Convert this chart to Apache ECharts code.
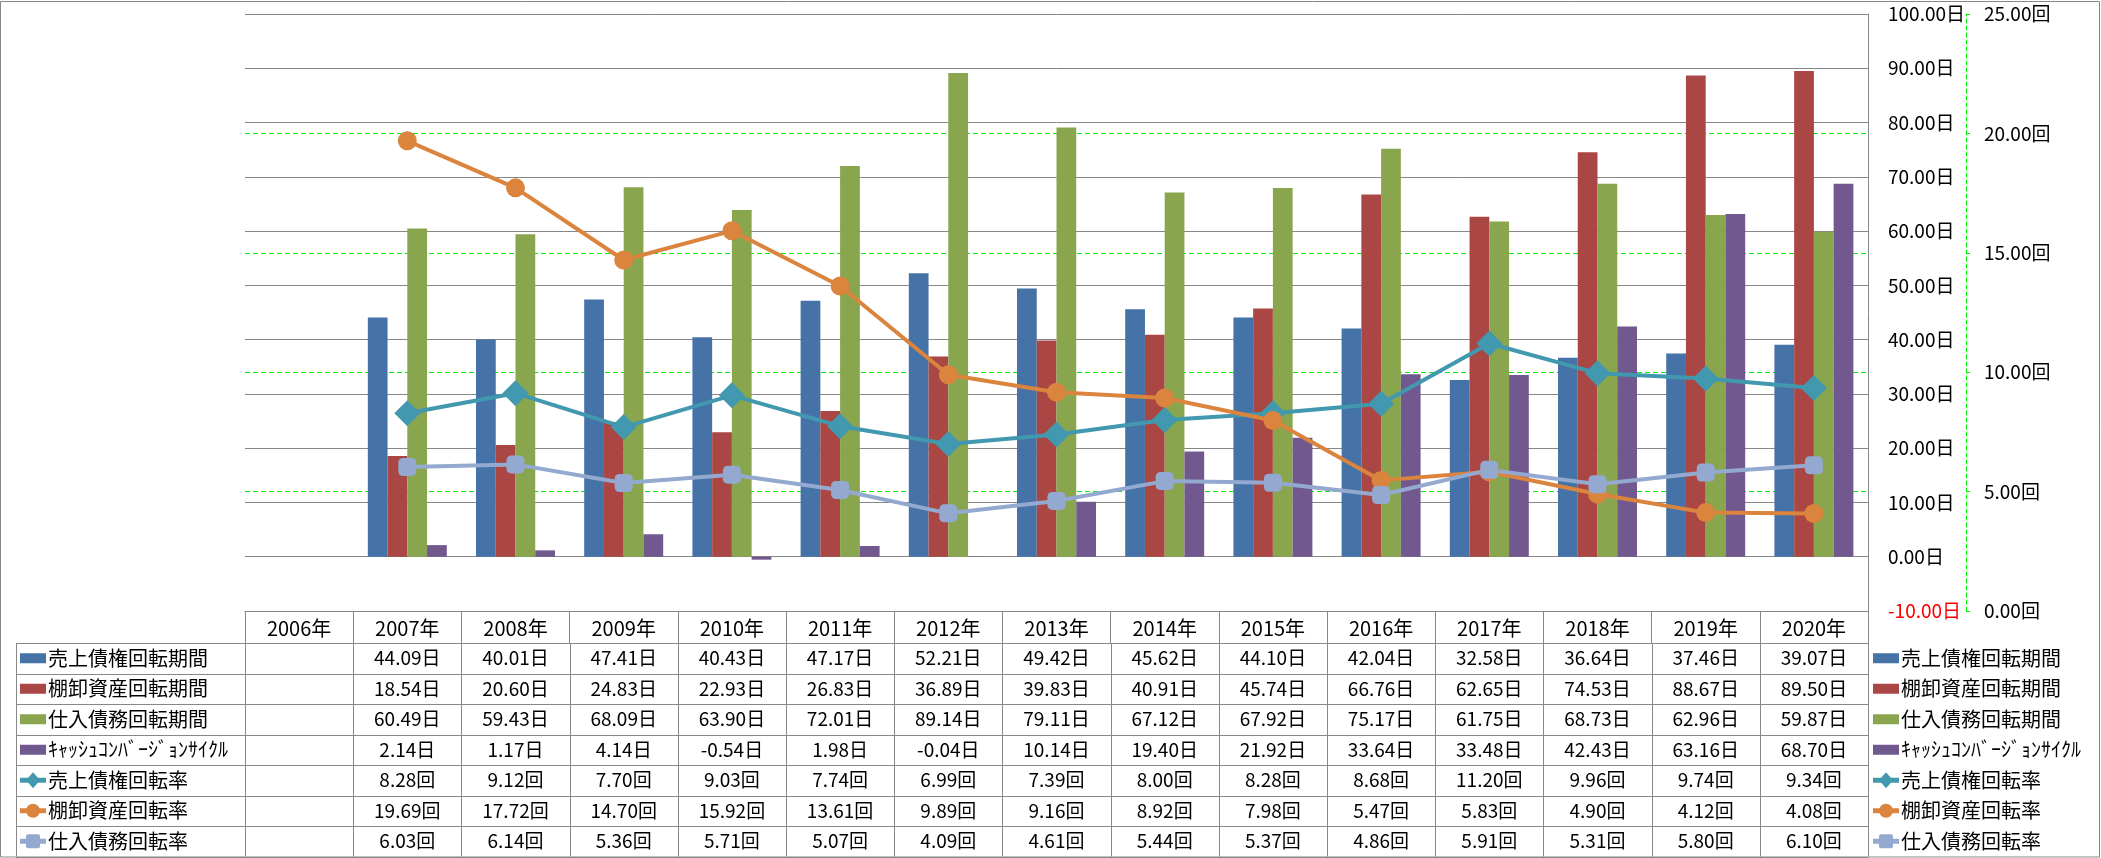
<!DOCTYPE html>
<html><head><meta charset="utf-8">
<script src="https://cdn.jsdelivr.net/npm/echarts@6/dist/echarts.min.js"></script>
<style>html,body{margin:0;padding:0;background:#fff}#c{width:2101px;height:858px}</style>
</head><body><div id="c"></div>
<script>
// ---------- data ----------
const years = ['2006年','2007年','2008年','2009年','2010年','2011年','2012年','2013年','2014年','2015年','2016年','2017年','2018年','2019年','2020年'];
const seriesNames = ['売上債権回転期間','棚卸資産回転期間','仕入債務回転期間','ｷｬｯｼｭｺﾝﾊﾞｰｼﾞｮﾝｻｲｸﾙ','売上債権回転率','棚卸資産回転率','仕入債務回転率'];
const receivableDays     = [null,44.09,40.01,47.41,40.43,47.17,52.21,49.42,45.62,44.10,42.04,32.58,36.64,37.46,39.07];
const inventoryDays      = [null,18.54,20.60,24.83,22.93,26.83,36.89,39.83,40.91,45.74,66.76,62.65,74.53,88.67,89.50];
const payableDays        = [null,60.49,59.43,68.09,63.90,72.01,89.14,79.11,67.12,67.92,75.17,61.75,68.73,62.96,59.87];
const cashConversionDays = [null,2.14,1.17,4.14,-0.54,1.98,-0.04,10.14,19.40,21.92,33.64,33.48,42.43,63.16,68.70];
const receivableTurnover = [null,8.28,9.12,7.70,9.03,7.74,6.99,7.39,8.00,8.28,8.68,11.20,9.96,9.74,9.34];
const inventoryTurnover  = [null,19.69,17.72,14.70,15.92,13.61,9.89,9.16,8.92,7.98,5.47,5.83,4.90,4.12,4.08];
const payableTurnover    = [null,6.03,6.14,5.36,5.71,5.07,4.09,4.61,5.44,5.37,4.86,5.91,5.31,5.80,6.10];
const dayAxis  = {min: -10, max: 100, interval: 10, unit: '日'};
const rateAxis = {min: 0, max: 25, interval: 5, unit: '回'};

// ---------- styles ----------
const COLORS = ['#4572A7','#AA4643','#89A54E','#71588F','#4198AF','#DB843D','#93A9CF'];
const NUM_FONT = "'Liberation Sans Narrow','Noto Sans CJK JP',sans-serif";
const JP_FONT = "'Noto Sans CJK JP',sans-serif";
const GRAY = '#878787';
const LIME = '#00ee00';

const rows = [
  {name: seriesNames[0], data: receivableDays,     unit: dayAxis.unit,  kind: 'bar'},
  {name: seriesNames[1], data: inventoryDays,      unit: dayAxis.unit,  kind: 'bar'},
  {name: seriesNames[2], data: payableDays,        unit: dayAxis.unit,  kind: 'bar'},
  {name: seriesNames[3], data: cashConversionDays, unit: dayAxis.unit,  kind: 'bar'},
  {name: seriesNames[4], data: receivableTurnover, unit: rateAxis.unit, kind: 'line', symbol: 'diamond',   size: 26},
  {name: seriesNames[5], data: inventoryTurnover,  unit: rateAxis.unit, kind: 'line', symbol: 'circle',    size: 19},
  {name: seriesNames[6], data: payableTurnover,    unit: rateAxis.unit, kind: 'line', symbol: 'roundRect', size: 18}
];

const chart = echarts.init(document.getElementById('c'));
const W = 2101, H = 858;
const G = {left: 245, right: 233, top: 14, bottom: 247};

const series = rows.map((r, i) => r.kind === 'bar' ? {
  name: r.name, type: 'bar', yAxisIndex: 0, data: r.data,
  barGap: '0%', barCategoryGap: '27%',
  itemStyle: {color: COLORS[i]}
} : {
  name: r.name, type: 'line', yAxisIndex: 1, data: r.data, z: 5,
  symbol: r.symbol, symbolSize: r.size, showAllSymbol: true,
  lineStyle: {width: 4, color: COLORS[i]},
  itemStyle: {color: COLORS[i]}
});

chart.setOption({
  animation: false,
  backgroundColor: '#fff',
  grid: {left: G.left, right: G.right, top: G.top, bottom: G.bottom, containLabel: false},
  xAxis: {
    type: 'category', data: years, position: 'bottom',
    axisLine: {onZero: false, lineStyle: {color: GRAY, width: 1}},
    axisTick: {show: true, interval: 0, length: 32, inside: false, lineStyle: {color: GRAY, width: 1}},
    axisLabel: {interval: 0, margin: 7, fontSize: 20, color: '#000', fontFamily: NUM_FONT},
    splitLine: {show: false}
  },
  yAxis: [{
    type: 'value', position: 'right', min: dayAxis.min, max: dayAxis.max, interval: dayAxis.interval,
    axisLine: {show: true, lineStyle: {color: GRAY, width: 1}},
    axisTick: {show: false},
    axisLabel: {margin: 20, fontSize: 19, fontFamily: NUM_FONT,
      color: v => (Number(v) < 0 ? '#ff0000' : '#000'),
      formatter: v => v.toFixed(2) + dayAxis.unit},
    splitLine: {show: true, lineStyle: {color: GRAY, width: 1}}
  }, {
    type: 'value', position: 'right', offset: 98, min: rateAxis.min, max: rateAxis.max, interval: rateAxis.interval,
    axisLine: {show: true, lineStyle: {color: LIME, width: 1, type: [4, 3]}},
    axisTick: {show: true, length: 4, inside: false, lineStyle: {color: LIME, width: 1}},
    axisLabel: {margin: 18, fontSize: 19, fontFamily: NUM_FONT, color: '#000',
      formatter: v => v.toFixed(2) + rateAxis.unit},
    splitLine: {show: true, showMinLine: false, showMaxLine: false, lineStyle: {color: LIME, width: 1, type: [5, 3]}}
  }],
  series: series
});

// ---------- data table + legends ----------
const centers = years.map((y, i) => chart.convertToPixel({xAxisIndex: 0}, i));
const colW = centers[1] - centers[0];
const tableRight = centers[centers.length - 1] + colW / 2;
const plotLeft = centers[0] - colW / 2;
const tableTop = H - G.bottom + 32;   // below header row
const tableBottom = 856.5;
const rowH = (tableBottom - tableTop) / rows.length;
const labelLeft = 16;

const g = [];
const crisp = v => Math.round(v) + 0.5;
const hline = (x1, x2, y) => g.push({type: 'line', silent: true, shape: {x1, y1: crisp(y), x2, y2: crisp(y)}, style: {stroke: GRAY, lineWidth: 1}});
const vline = (x, y1, y2) => g.push({type: 'line', silent: true, shape: {x1: crisp(x), y1, x2: crisp(x), y2}, style: {stroke: GRAY, lineWidth: 1}});

// outer border
g.push({type: 'rect', silent: true, shape: {x: 0.5, y: 1.5, width: W - 2, height: H - 2.5}, style: {fill: 'none', stroke: GRAY, lineWidth: 1}});

for (let r = 0; r <= rows.length; r++) hline(labelLeft, tableRight, tableTop + r * rowH);
vline(labelLeft, tableTop, tableBottom);
vline(plotLeft, tableTop, tableBottom);
for (let i = 0; i < years.length; i++) vline(centers[i] + colW / 2, i === years.length - 1 ? H - G.bottom : tableTop, tableBottom);

function key(x, cy, i) {
  const r = rows[i], c = COLORS[i];
  if (r.kind === 'bar') {
    g.push({type: 'rect', silent: true, shape: {x: x, y: cy - 5, width: 26, height: 10}, style: {fill: c}});
    return;
  }
  const mx = x + 13;
  g.push({type: 'line', silent: true, shape: {x1: x, y1: cy, x2: x + 26, y2: cy}, style: {stroke: c, lineWidth: 5}});
  if (r.symbol === 'diamond') g.push({type: 'polygon', silent: true, shape: {points: [[mx, cy - 8], [mx + 7, cy], [mx, cy + 8], [mx - 7, cy]]}, style: {fill: c}});
  else if (r.symbol === 'circle') g.push({type: 'circle', silent: true, shape: {cx: mx, cy: cy, r: 7}, style: {fill: c}});
  else g.push({type: 'rect', silent: true, shape: {x: mx - 7, y: cy - 7, width: 14, height: 14, r: 2}, style: {fill: c}});
}

rows.forEach((r, ri) => {
  const cy = tableTop + (ri + 0.5) * rowH;
  key(20, cy, ri);
  g.push({type: 'text', silent: true, x: 48, y: cy, style: {text: r.name, fontSize: 20, fontFamily: JP_FONT, fill: '#000', verticalAlign: 'middle', align: 'left'}});
  key(1873, cy, ri);
  g.push({type: 'text', silent: true, x: 1901, y: cy, style: {text: r.name, fontSize: 20, fontFamily: JP_FONT, fill: '#000', verticalAlign: 'middle', align: 'left'}});
  r.data.forEach((v, ci) => {
    if (v === null) return;
    g.push({type: 'text', silent: true, x: centers[ci], y: cy, style: {text: v.toFixed(2) + r.unit, fontSize: 19, fontFamily: NUM_FONT, fill: '#000', verticalAlign: 'middle', align: 'center'}});
  });
});

chart.setOption({graphic: {elements: g}});
</script>
</body></html>
